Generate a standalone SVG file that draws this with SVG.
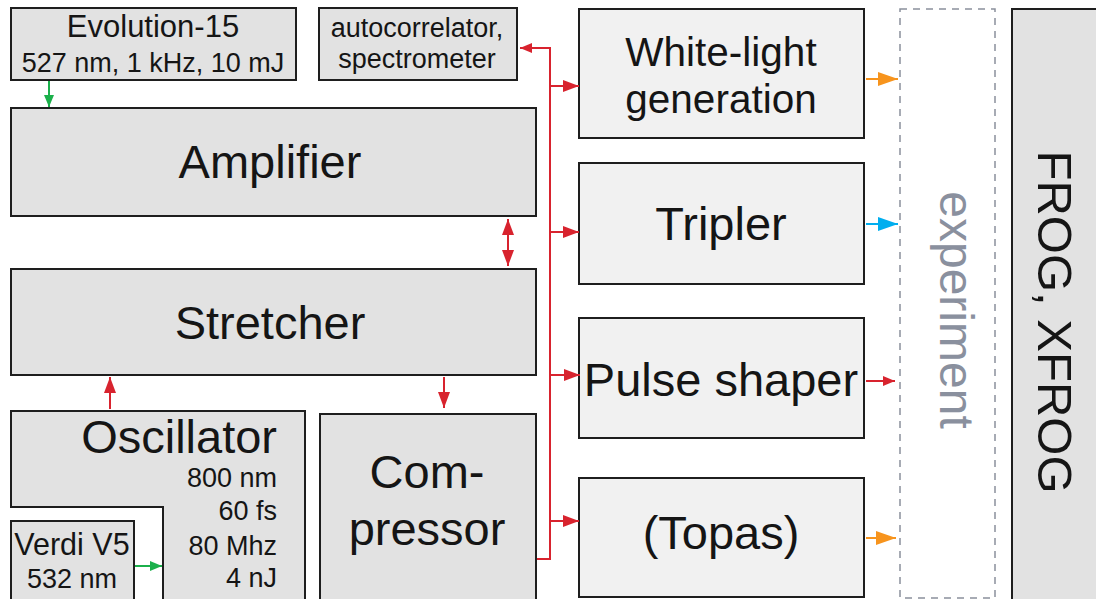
<svg xmlns="http://www.w3.org/2000/svg" width="1096" height="599" viewBox="0 0 1096 599">
  <defs>
    <style>
      .box { fill: #e2e2e2; stroke: #1e1e1e; stroke-width: 2; }
      .boxl { fill: #f1f1f1; stroke: #1e1e1e; stroke-width: 2; }
      text { font-family: "Liberation Sans", Arial, Helvetica, sans-serif; fill: #151515; }
      .big { font-size: 47px; text-anchor: middle; }
      .mid { font-size: 31px; text-anchor: middle; }
      .sm { font-size: 27px; text-anchor: middle; }
      .smr { font-size: 27px; text-anchor: end; }
      .red { fill: none; stroke: #d8232e; stroke-width: 2; }
      .green { fill: none; stroke: #1bb04b; stroke-width: 2; }
      .orange { fill: none; stroke: #f7941d; stroke-width: 2; }
      .blue { fill: none; stroke: #00aeef; stroke-width: 2; }
    </style>
    <marker id="ahRed" markerUnits="userSpaceOnUse" markerWidth="18" markerHeight="14" refX="16" refY="6" orient="auto-start-reverse">
      <path d="M0,0 L16,6 L0,12 Z" fill="#d8232e"/>
    </marker>
    <marker id="ahRedS" markerUnits="userSpaceOnUse" markerWidth="14" markerHeight="12" refX="12" refY="5" orient="auto">
      <path d="M0,0 L12,5 L0,10 Z" fill="#d8232e"/>
    </marker>
    <marker id="ahGreen" markerUnits="userSpaceOnUse" markerWidth="14" markerHeight="12" refX="12" refY="5" orient="auto">
      <path d="M0,0 L12,5 L0,10 Z" fill="#1bb04b"/>
    </marker>
    <marker id="ahOrange" markerUnits="userSpaceOnUse" markerWidth="22" markerHeight="16" refX="20" refY="7" orient="auto">
      <path d="M0,0 L20,7 L0,14 Z" fill="#f7941d"/>
    </marker>
    <marker id="ahBlue" markerUnits="userSpaceOnUse" markerWidth="22" markerHeight="16" refX="20" refY="7" orient="auto">
      <path d="M0,0 L20,7 L0,14 Z" fill="#00aeef"/>
    </marker>
  </defs>

  <rect width="1096" height="599" fill="#ffffff"/>

  <!-- pump laser -->
  <g id="evolution">
    <rect class="box" x="11" y="8" width="285" height="72"/>
    <text class="mid" x="153" y="37">Evolution-15</text>
    <text class="sm" x="153" y="72">527 nm, 1 kHz, 10 mJ</text>
  </g>

  <!-- diagnostics -->
  <g id="autocorrelator">
    <rect class="box" x="319" y="8" width="198" height="72"/>
    <text class="sm" x="417" y="37">autocorrelator,</text>
    <text class="sm" x="417" y="68">spectrometer</text>
  </g>

  <g id="amplifier">
    <rect class="box" x="11" y="108" width="525" height="108"/>
    <text class="big" x="270" y="178">Amplifier</text>
  </g>

  <g id="stretcher">
    <rect class="box" x="11" y="269" width="525" height="106"/>
    <text class="big" x="270" y="339">Stretcher</text>
  </g>

  <!-- L-shaped oscillator block wrapping the Verdi pump -->
  <g id="oscillator">
    <path class="box" d="M11,411 H305 V604 H163 V507 H11 Z"/>
    <text class="big" x="277" y="453" style="text-anchor:end">Oscillator</text>
    <text class="smr" x="277" y="487">800 nm</text>
    <text class="smr" x="277" y="520">60 fs</text>
    <text class="smr" x="277" y="555">80 Mhz</text>
    <text class="smr" x="277" y="587">4 nJ</text>
  </g>

  <g id="verdi">
    <rect class="box" x="11" y="521" width="123" height="84"/>
    <text class="mid" x="72" y="555" style="font-size:30.5px">Verdi V5</text>
    <text class="sm" x="72" y="588">532 nm</text>
  </g>

  <g id="compressor">
    <rect class="box" x="320" y="414" width="216" height="190"/>
    <text class="big" x="427" y="488">Com-</text>
    <text class="big" x="427" y="545">pressor</text>
  </g>

  <g id="whitelight">
    <rect class="boxl" x="579" y="9" width="285" height="129"/>
    <text class="big" x="721" y="66" style="font-size:40.5px">White-light</text>
    <text class="big" x="721" y="113" style="font-size:40.5px">generation</text>
  </g>

  <g id="tripler">
    <rect class="boxl" x="579" y="163" width="285" height="121"/>
    <text class="big" x="721" y="240">Tripler</text>
  </g>

  <g id="pulseshaper">
    <rect class="boxl" x="579" y="318" width="285" height="120"/>
    <text class="big" x="721" y="396">Pulse shaper</text>
  </g>

  <g id="topas">
    <rect class="boxl" x="579" y="478" width="285" height="119"/>
    <text class="big" x="721" y="549">(Topas)</text>
  </g>

  <g id="experiment">
    <rect x="900" y="9" width="95" height="589" fill="none" stroke="#8a909c" stroke-width="1.5" stroke-dasharray="7,6"/>
    <text transform="translate(940,310) rotate(90)" style="font-size:48px; fill:#8a909e; text-anchor:middle">experiment</text>
  </g>

  <g id="frog">
    <rect class="box" x="1012" y="9" width="100" height="600"/>
    <text transform="translate(1038,322) rotate(90)" style="font-size:49px; text-anchor:middle">FROG, XFROG</text>
  </g>

  <!-- beam paths -->
  <g id="connectors">
    <line class="green" x1="49" y1="81" x2="49" y2="107" marker-end="url(#ahGreen)"/>
    <line class="green" x1="135" y1="566" x2="162" y2="566" marker-end="url(#ahGreen)"/>

    <path class="red" d="M537,559 H550 V48 H520" marker-end="url(#ahRedS)"/>
    <line class="red" x1="550" y1="86" x2="579" y2="86" marker-end="url(#ahRed)"/>
    <line class="red" x1="550" y1="232" x2="579" y2="232" marker-end="url(#ahRed)"/>
    <line class="red" x1="550" y1="375" x2="580" y2="375" marker-end="url(#ahRed)"/>
    <line class="red" x1="550" y1="521" x2="579" y2="521" marker-end="url(#ahRed)"/>

    <line class="red" x1="508" y1="219" x2="508" y2="266" marker-start="url(#ahRed)" marker-end="url(#ahRed)"/>
    <line class="red" x1="110" y1="409" x2="110" y2="377" marker-end="url(#ahRed)"/>
    <line class="red" x1="444" y1="377" x2="444" y2="408" marker-end="url(#ahRed)"/>

    <line class="orange" x1="866" y1="79" x2="898" y2="79" marker-end="url(#ahOrange)"/>
    <line class="blue" x1="866" y1="224" x2="898" y2="224" marker-end="url(#ahBlue)"/>
    <line class="red" x1="866" y1="381" x2="895" y2="381" marker-end="url(#ahRedS)"/>
    <line class="orange" x1="866" y1="538" x2="896" y2="538" marker-end="url(#ahOrange)"/>
  </g>
</svg>
